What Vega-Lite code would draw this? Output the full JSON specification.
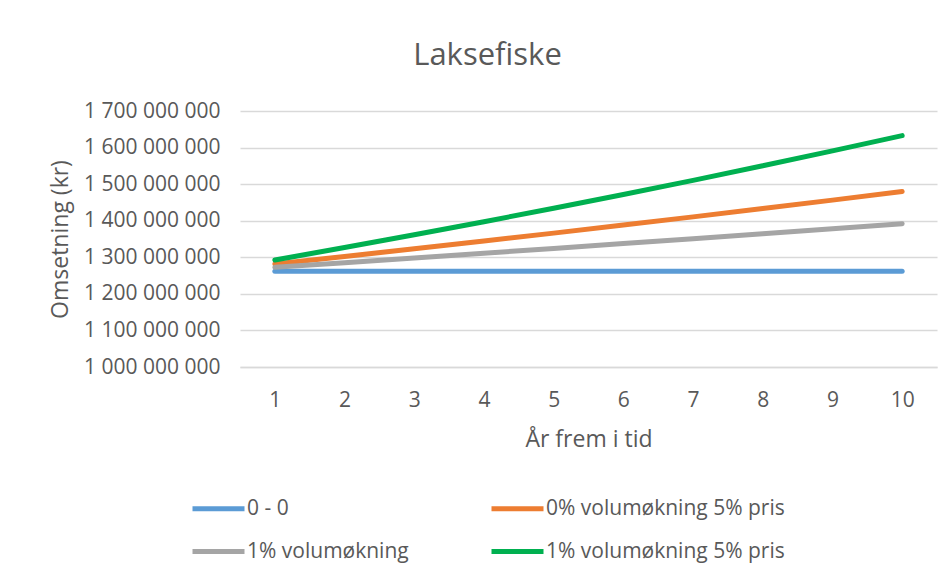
{
  "$schema": "https://vega.github.io/schema/vega-lite/v6.json",
  "autosize": "none",
  "width": 697,
  "height": 256,
  "padding": {"left": 240, "top": 111, "right": 15, "bottom": 212},
  "background": "white",
  "config": {
    "font": "Open Sans",
    "view": {"stroke": null},
    "locale": {"number": {"decimal": ",", "thousands": " ", "grouping": [3], "currency": ["", " kr"]}}
  },
  "title": {
    "text": "Laksefiske",
    "fontSize": 31,
    "font": "Open Sans",
    "fontWeight": "normal",
    "color": "#595959",
    "anchor": "middle",
    "baseline": "alphabetic",
    "dx": -101,
    "offset": 4
  },
  "data": {
    "values": [
      {"year": 1, "series": "0 - 0", "value": 1261600000},
      {"year": 2, "series": "0 - 0", "value": 1261600000},
      {"year": 3, "series": "0 - 0", "value": 1261600000},
      {"year": 4, "series": "0 - 0", "value": 1261600000},
      {"year": 5, "series": "0 - 0", "value": 1261600000},
      {"year": 6, "series": "0 - 0", "value": 1261600000},
      {"year": 7, "series": "0 - 0", "value": 1261600000},
      {"year": 8, "series": "0 - 0", "value": 1261600000},
      {"year": 9, "series": "0 - 0", "value": 1261600000},
      {"year": 10, "series": "0 - 0", "value": 1261600000},
      {"year": 1, "series": "0% volumøkning 5% pris", "value": 1281600000},
      {"year": 2, "series": "0% volumøkning 5% pris", "value": 1302200000},
      {"year": 3, "series": "0% volumøkning 5% pris", "value": 1323200000},
      {"year": 4, "series": "0% volumøkning 5% pris", "value": 1344500000},
      {"year": 5, "series": "0% volumøkning 5% pris", "value": 1366100000},
      {"year": 6, "series": "0% volumøkning 5% pris", "value": 1388100000},
      {"year": 7, "series": "0% volumøkning 5% pris", "value": 1410500000},
      {"year": 8, "series": "0% volumøkning 5% pris", "value": 1433200000},
      {"year": 9, "series": "0% volumøkning 5% pris", "value": 1456300000},
      {"year": 10, "series": "0% volumøkning 5% pris", "value": 1479700000},
      {"year": 1, "series": "1% volumøkning", "value": 1272600000},
      {"year": 2, "series": "1% volumøkning", "value": 1285300000},
      {"year": 3, "series": "1% volumøkning", "value": 1298200000},
      {"year": 4, "series": "1% volumøkning", "value": 1311100000},
      {"year": 5, "series": "1% volumøkning", "value": 1324300000},
      {"year": 6, "series": "1% volumøkning", "value": 1337500000},
      {"year": 7, "series": "1% volumøkning", "value": 1350900000},
      {"year": 8, "series": "1% volumøkning", "value": 1364400000},
      {"year": 9, "series": "1% volumøkning", "value": 1378000000},
      {"year": 10, "series": "1% volumøkning", "value": 1391800000},
      {"year": 1, "series": "1% volumøkning 5% pris", "value": 1292600000},
      {"year": 2, "series": "1% volumøkning 5% pris", "value": 1326600000},
      {"year": 3, "series": "1% volumøkning 5% pris", "value": 1361500000},
      {"year": 4, "series": "1% volumøkning 5% pris", "value": 1397300000},
      {"year": 5, "series": "1% volumøkning 5% pris", "value": 1434000000},
      {"year": 6, "series": "1% volumøkning 5% pris", "value": 1471700000},
      {"year": 7, "series": "1% volumøkning 5% pris", "value": 1510400000},
      {"year": 8, "series": "1% volumøkning 5% pris", "value": 1550100000},
      {"year": 9, "series": "1% volumøkning 5% pris", "value": 1590900000},
      {"year": 10, "series": "1% volumøkning 5% pris", "value": 1632700000}
    ]
  },
  "mark": {"type": "line", "strokeWidth": 5, "strokeCap": "round", "strokeJoin": "round"},
  "encoding": {
    "x": {
      "field": "year",
      "type": "ordinal",
      "scale": {"type": "point", "padding": 0.5},
      "axis": {
        "title": "År frem i tid",
        "titleFontSize": 23,
        "titleFontWeight": "normal",
        "titleColor": "#595959",
        "titlePadding": 18,
        "labelAngle": 0,
        "labelFontSize": 21,
        "labelColor": "#595959",
        "labelPadding": 22,
        "ticks": false,
        "domainColor": "#D9D9D9",
        "domainWidth": 1.5,
        "grid": false
      }
    },
    "y": {
      "field": "value",
      "type": "quantitative",
      "scale": {"domain": [1000000000, 1700000000], "nice": false, "zero": false},
      "axis": {
        "title": "Omsetning (kr)",
        "titleFontSize": 23,
        "titleFontWeight": "normal",
        "titleColor": "#595959",
        "titleX": -168,
        "titleY": 128,
        "values": [1000000000, 1100000000, 1200000000, 1300000000, 1400000000, 1500000000, 1600000000, 1700000000],
        "format": ",d",
        "labelFontSize": 21,
        "labelColor": "#595959",
        "labelPadding": 20,
        "ticks": false,
        "domain": false,
        "grid": true,
        "gridColor": "#D9D9D9",
        "gridWidth": 1.5
      }
    },
    "color": {
      "field": "series",
      "type": "nominal",
      "scale": {
        "domain": ["0 - 0", "0% volumøkning 5% pris", "1% volumøkning", "1% volumøkning 5% pris"],
        "range": ["#5B9BD5", "#ED7D31", "#A5A5A5", "#00B050"]
      },
      "legend": {
        "title": null,
        "orient": "none",
        "direction": "horizontal",
        "legendX": -50,
        "legendY": 369,
        "columns": 2,
        "columnPadding": 72,
        "rowPadding": 4,
        "symbolType": "stroke",
        "symbolSize": 2704,
        "symbolStrokeWidth": 5,
        "labelOffset": 0,
        "labelFontSize": 21,
        "labelColor": "#595959",
        "labelLimit": 400
      }
    }
  }
}
